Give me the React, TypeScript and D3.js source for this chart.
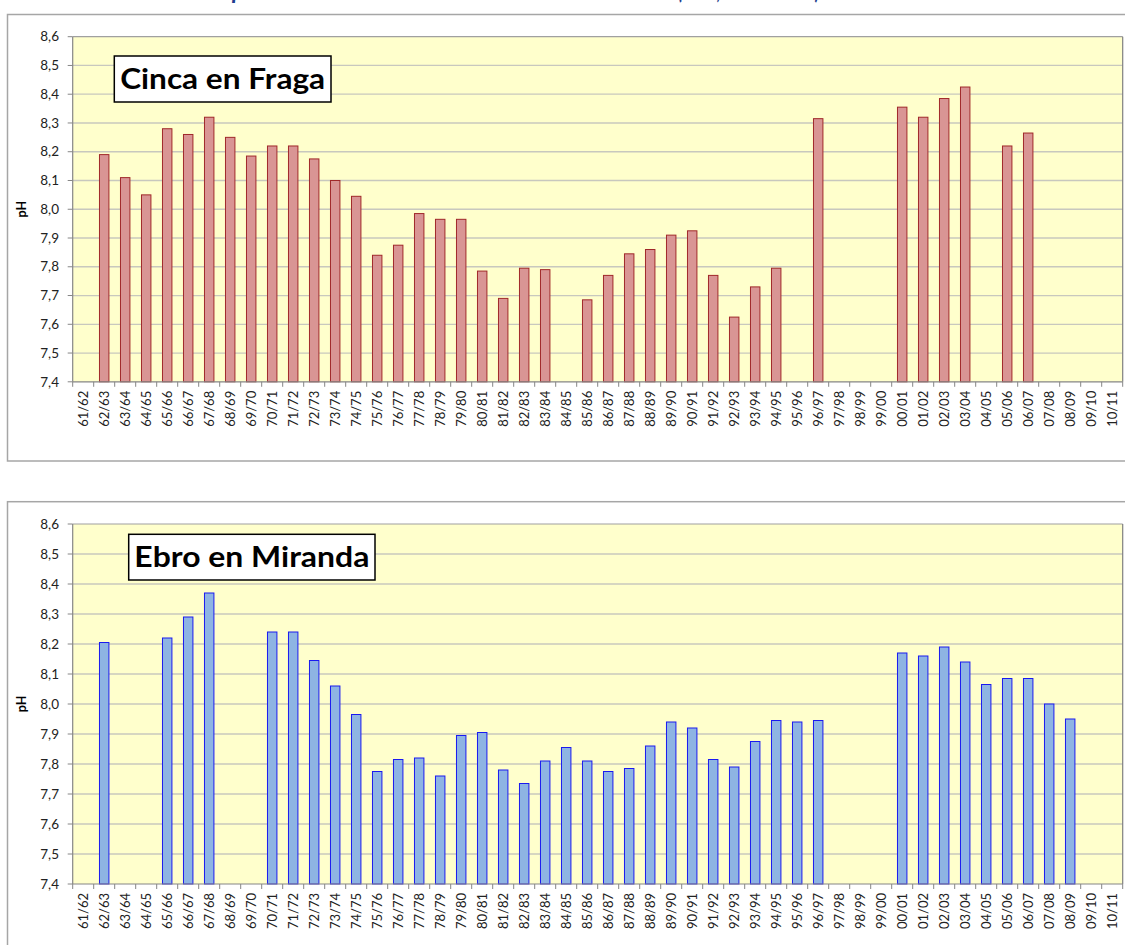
import React from "react";
import * as d3 from "d3";

const categories = [
  "61/62","62/63","63/64","64/65","65/66","66/67","67/68","68/69","69/70","70/71",
  "71/72","72/73","73/74","74/75","75/76","76/77","77/78","78/79","79/80","80/81",
  "81/82","82/83","83/84","84/85","85/86","86/87","87/88","88/89","89/90","90/91",
  "91/92","92/93","93/94","94/95","95/96","96/97","97/98","98/99","99/00","00/01",
  "01/02","02/03","03/04","04/05","05/06","06/07","07/08","08/09","09/10","10/11",
];

const cincaValues: (number | null)[] = [
  null, 8.19, 8.11, 8.05, 8.28, 8.26, 8.32, 8.25, 8.185, 8.22,
  8.22, 8.175, 8.10, 8.045, 7.84, 7.875, 7.985, 7.965, 7.965, 7.785,
  7.69, 7.795, 7.79, null, 7.685, 7.77, 7.845, 7.86, 7.91, 7.925,
  7.77, 7.625, 7.73, 7.795, null, 8.315, null, null, null, 8.355,
  8.32, 8.385, 8.425, null, 8.22, 8.265, null, null, null, null,
];

const ebroValues: (number | null)[] = [
  null, 8.205, null, null, 8.22, 8.29, 8.37, null, null, 8.24,
  8.24, 8.145, 8.06, 7.965, 7.775, 7.815, 7.82, 7.76, 7.895, 7.905,
  7.78, 7.735, 7.81, 7.855, 7.81, 7.775, 7.785, 7.86, 7.94, 7.92,
  7.815, 7.79, 7.875, 7.945, 7.94, 7.945, null, null, null, 8.17,
  8.16, 8.19, 8.14, 8.065, 8.085, 8.085, 8.0, 7.95, null, null,
];

const yTicks = [7.4, 7.5, 7.6, 7.7, 7.8, 7.9, 8.0, 8.1, 8.2, 8.3, 8.4, 8.5, 8.6];
const yLabel = "pH";
const titleTop = "Cinca en Fraga";
const titleBottom = "Ebro en Miranda";
const mainTitleParts = ["Evolución del", "pH medio anual en las estaciones de la red", "(CHE, 1961-2011)"];

const FONT = "Lato, 'Open Sans', sans-serif";

type PanelProps = {
  boxY: number;
  boxH: number;
  plotTop: number;
  plotBottom: number;
  values: (number | null)[];
  fill: string;
  stroke: string;
  title: string;
  titleBox: { x: number; y: number; w: number; h: number; tl: number };
};

function Panel({ boxY, boxH, plotTop, plotBottom, values, fill, stroke, title, titleBox }: PanelProps) {
  const plotLeft = 72.7;
  const plotRight = 1122.7;
  const x = d3.scaleBand<string>().domain(categories).range([plotLeft, plotRight]).paddingInner(0.55).paddingOuter(0.275);
  const xb = d3.scaleBand<string>().domain(categories).range([plotLeft, plotRight]);
  const y = d3.scaleLinear().domain([7.4, 8.6]).range([plotBottom, plotTop]);
  const fmt = (v: number) => d3.format(".1f")(v).replace(".", ",");
  return (
    <g>
      <rect x={7.5} y={boxY} width={1130} height={boxH} fill="#fff" stroke="#A6A6A6" strokeWidth={1.5} />
      <rect x={plotLeft} y={plotTop} width={plotRight - plotLeft} height={plotBottom - plotTop} fill="#FFFFCC" />
      {yTicks.map((t) => (
        <g key={t}>
          {t > 7.4 && t < 8.6 && (
            <line x1={plotLeft} x2={plotRight} y1={y(t)} y2={y(t)} stroke="#C8C8BE" strokeWidth={1.3} />
          )}
          <line x1={plotLeft - 5} x2={plotLeft} y1={y(t)} y2={y(t)} stroke="#868686" strokeWidth={1} />
          <text x={59} y={y(t)} dy="0.35em" textAnchor="end" fontFamily={FONT} fontSize={13.5} fill="#222">
            {fmt(t)}
          </text>
        </g>
      ))}
      <line x1={plotLeft} x2={plotRight} y1={plotTop} y2={plotTop} stroke="#A0A0A0" strokeWidth={1.2} />
      <line x1={plotRight} x2={plotRight} y1={plotTop} y2={plotBottom} stroke="#808080" strokeWidth={1.2} />
      {values.map((v, i) =>
        v == null ? null : (
          <rect
            key={i}
            x={x(categories[i])!}
            y={y(v)}
            width={x.bandwidth()}
            height={plotBottom - y(v)}
            fill={fill}
            stroke={stroke}
            strokeWidth={1}
          />
        )
      )}
      <line x1={plotLeft} x2={plotLeft} y1={plotTop} y2={plotBottom} stroke="#868686" strokeWidth={1.2} />
      <line x1={plotLeft} x2={plotRight} y1={plotBottom} y2={plotBottom} stroke="#868686" strokeWidth={1.2} />
      {categories.map((c, i) => (
        <line key={"t" + i} x1={xb(c)!} x2={xb(c)!} y1={plotBottom} y2={plotBottom + 5} stroke="#868686" strokeWidth={1} />
      ))}
      <line x1={plotRight} x2={plotRight} y1={plotBottom} y2={plotBottom + 5} stroke="#868686" strokeWidth={1} />
      {categories.map((c) => {
        const cx = xb(c)! + xb.bandwidth() / 2;
        const ty = plotBottom + 9;
        return (
          <text
            key={c}
            x={cx}
            y={ty}
            transform={`rotate(-90 ${cx} ${ty})`}
            textAnchor="end"
            dy="0.35em"
            fontFamily={FONT}
            fontSize={13}
            fill="#222"
          >
            {c}
          </text>
        );
      })}
      <text
        x={22}
        y={(plotTop + plotBottom) / 2}
        transform={`rotate(-90 22 ${(plotTop + plotBottom) / 2})`}
        textAnchor="middle"
        dy="0.35em"
        fontFamily={FONT}
        fontWeight="bold"
        fontSize={12.5}
        fill="#000"
      >
        {yLabel}
      </text>
      <rect x={titleBox.x} y={titleBox.y} width={titleBox.w} height={titleBox.h} fill="#fff" stroke="#000" strokeWidth={1.5} />
      <text
        x={titleBox.x + titleBox.w / 2}
        y={titleBox.y + titleBox.h / 2}
        dy="0.36em"
        textAnchor="middle"
        fontFamily={FONT}
        fontWeight="bold"
        fontSize={28}
        textLength={titleBox.tl}
        lengthAdjust="spacingAndGlyphs"
        fill="#000"
      >
        {title}
      </text>
    </g>
  );
}

export default function App() {
  const titleStyle = {
    fontFamily: FONT,
    fontWeight: "bold" as const,
    fontStyle: "italic" as const,
    fontSize: 30,
    fill: "#1F3F8F",
  };
  return (
    <svg
      width={1125}
      height={945}
      style={{ position: "absolute", left: 0, top: 0, background: "#fff" }}
    >
      <text x={60} y={-2} textLength={155} lengthAdjust="spacingAndGlyphs" style={titleStyle}>
        {mainTitleParts[0]}
      </text>
      <text x={232} y={-2} textLength={420} lengthAdjust="spacingAndGlyphs" style={titleStyle}>
        {mainTitleParts[1]}
      </text>
      <text x={678} y={-2} textLength={142} lengthAdjust="spacingAndGlyphs" style={titleStyle}>
        {mainTitleParts[2]}
      </text>
      <Panel
        boxY={14.5}
        boxH={446.5}
        plotTop={36.7}
        plotBottom={381.8}
        values={cincaValues}
        fill="#D99594"
        stroke="#A0282A"
        title={titleTop}
        titleBox={{ x: 114.3, y: 56, w: 216.7, h: 46, tl: 205 }}
      />
      <Panel
        boxY={501.7}
        boxH={480}
        plotTop={524}
        plotBottom={884}
        values={ebroValues}
        fill="#8EB4E3"
        stroke="#1A1AF0"
        title={titleBottom}
        titleBox={{ x: 128.7, y: 534.3, w: 246.3, h: 45.7, tl: 235 }}
      />
    </svg>
  );
}
